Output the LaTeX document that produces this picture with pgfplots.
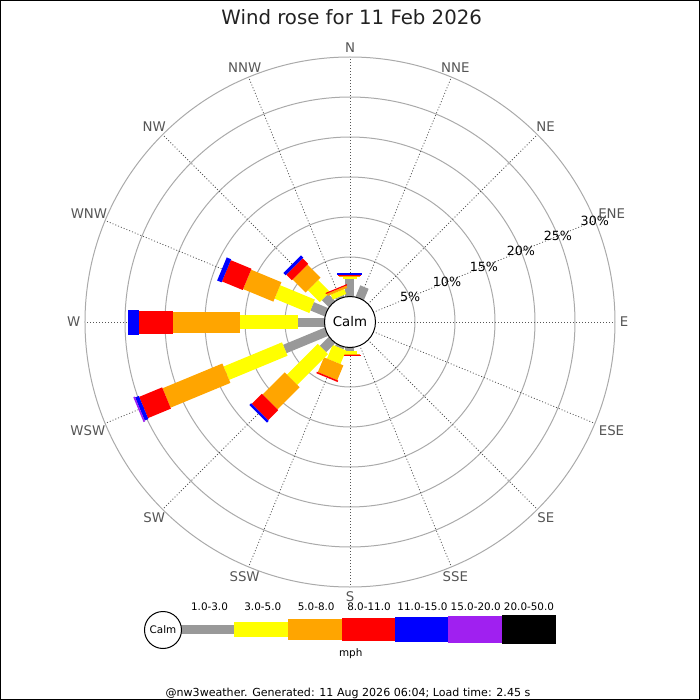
\documentclass[border=0pt]{standalone}
\usepackage{pgfplots}
\pgfplotsset{compat=1.18}
\usepgfplotslibrary{polar}
\usetikzlibrary{backgrounds}
\usepackage{fontspec}
\setmainfont{DejaVu Sans}
\definecolor{cgray}{HTML}{999999}
\definecolor{cyellow}{HTML}{FFFF00}
\definecolor{corange}{HTML}{FFA500}
\definecolor{cred}{HTML}{FF0000}
\definecolor{cblue}{HTML}{0000FF}
\definecolor{cpurple}{HTML}{A020F0}
\definecolor{ringgray}{HTML}{AAAAAA}
\definecolor{spoke}{HTML}{555555}
\definecolor{labgray}{HTML}{555555}
\definecolor{titlec}{HTML}{222222}
% bar widths (px * 0.75pt)
\def\wg{6.75pt}\def\wy{10.875pt}\def\wo{15.75pt}\def\wr{17.25pt}\def\wb{18.75pt}\def\wp{20.25pt}
% segment: colour, width, compass direction, from %, to %
\newcommand{\seg}[5]{\addplot[draw=#1, line width=#2, forget plot] coordinates {(#3,#4) (#3,#5)};}
\begin{document}
\begin{tikzpicture}
\begin{polaraxis}[
  at={(0,0)}, anchor=center,
  scale only axis, width=397.5pt, height=397.5pt,
  xmin=0, xmax=360, ymin=0, ymax=33.125,
  hide axis, clip=false,
  x filter/.expression={mod(450-x,360)},
  y filter/.expression={y+3.125},
]
\coordinate (O) at (axis cs:0,0);
% N
\seg{cgray}{\wg}{0}{0}{2.3}
\seg{cyellow}{\wy}{0}{2.3}{2.5}
\seg{corange}{\wo}{0}{2.5}{2.7}
\seg{cred}{\wr}{0}{2.7}{2.8}
\seg{cblue}{\wb}{0}{2.8}{2.95}
% NNE
\seg{cgray}{\wg}{22.5}{0}{1.6}
% S
\seg{cgray}{\wg}{180}{0}{0.55}
\seg{cyellow}{\wy}{180}{0.55}{0.85}
\seg{corange}{\wo}{180}{0.85}{1.0}
\seg{cred}{\wr}{180}{1.0}{1.15}
% SSW
\seg{cgray}{\wg}{202.5}{0}{0.35}
\seg{cyellow}{\wy}{202.5}{0.35}{2.2}
\seg{corange}{\wo}{202.5}{2.2}{4.2}
\seg{cred}{\wr}{202.5}{4.2}{4.4}
% SW
\seg{cgray}{\wg}{225}{0}{1.65}
\seg{cyellow}{\wy}{225}{1.65}{7.1}
\seg{corange}{\wo}{225}{7.1}{11.0}
\seg{cred}{\wr}{225}{11.0}{12.8}
\seg{cblue}{\wb}{225}{12.8}{13.1}
% WSW
\seg{cgray}{\wg}{247.5}{0}{5.7}
\seg{cyellow}{\wy}{247.5}{5.7}{13.6}
\seg{corange}{\wo}{247.5}{13.6}{21.7}
\seg{cred}{\wr}{247.5}{21.7}{24.8}
\seg{cblue}{\wb}{247.5}{24.8}{25.3}
\seg{cpurple}{\wp}{247.5}{25.3}{25.5}
% W
\seg{cgray}{\wg}{270}{0}{3.4}
\seg{cyellow}{\wy}{270}{3.4}{10.6}
\seg{corange}{\wo}{270}{10.6}{19.0}
\seg{cred}{\wr}{270}{19.0}{23.3}
\seg{cblue}{\wb}{270}{23.3}{24.6}
% WNW
\seg{cgray}{\wg}{292.5}{0}{2.0}
\seg{cyellow}{\wy}{292.5}{2.0}{6.7}
\seg{corange}{\wo}{292.5}{6.7}{10.8}
\seg{cred}{\wr}{292.5}{10.8}{13.6}
\seg{cblue}{\wb}{292.5}{13.6}{14.2}
% NW
\seg{cgray}{\wg}{315}{0}{1.3}
\seg{cyellow}{\wy}{315}{1.3}{3.4}
\seg{corange}{\wo}{315}{3.4}{5.7}
\seg{cred}{\wr}{315}{5.7}{6.7}
\seg{cblue}{\wb}{315}{6.7}{7.1}
% NNW
\seg{cgray}{\wg}{337.5}{0}{0.3}
\seg{cyellow}{\wy}{337.5}{0.3}{0.95}
\seg{corange}{\wo}{337.5}{0.95}{1.25}
\seg{cred}{\wr}{337.5}{1.25}{1.4}
\end{polaraxis}
% background grid
\begin{scope}[on background layer, shift={(O)}, x=0.75pt, y=0.75pt]
  \foreach \r in {65,105,145,185,225,265}
    \draw[ringgray, line width=0.75pt] (0,0) circle[radius=\r];
  \foreach \a in {0,22.5,...,337.5}
    \draw[spoke, line width=0.6pt, dash pattern=on 0.75pt off 1.5pt] (\a:25) -- (\a:265);
\end{scope}
\begin{scope}[shift={(O)}, x=0.75pt, y=0.75pt]
  \path (-350,-378) rectangle (350,322);
  \draw[black, line width=0.75pt] (-349.5,-377.5) rectangle (349.5,321.5);
  % title
  \node[anchor=base, text=titlec, inner sep=0pt, font=\fontsize{14.8}{17}\selectfont] at (1.7,297) {Wind rose for 11 Feb 2026};
  % ring labels
  \foreach \r/\t in {65/5,105/10,145/15,185/20,225/25,265/30}
    \node[inner sep=0pt, font=\fontsize{9.5}{11}\selectfont] at (22.5:\r) {\t\%};
  % compass labels
  \foreach \c/\n in {0/N,22.5/NNE,45/NE,67.5/ENE,90/E,112.5/ESE,135/SE,157.5/SSE,180/S,202.5/SSW,225/SW,247.5/WSW,270/W,292.5/WNW,315/NW,337.5/NNW}{
    \pgfmathsetmacro\ang{mod(450-\c,360)}
    \pgfmathsetmacro\anc{mod(630-\c,360)}
    \node[anchor=\anc, inner sep=0pt, text=labgray, font=\fontsize{10}{12}\selectfont] at (\ang:269.5) {\n};
  }
  % calm circle
  \draw[fill=white, line width=0.75pt] (0,0) circle[radius=25.5];
  \node[font=\fontsize{10}{12}\selectfont] at (0,0) {Calm};
  % legend
  \fill[cgray]   (-169,-311.75) rectangle (-115.7,-303.25);
  \fill[cyellow] (-115.7,-315) rectangle (-62.3,-300);
  \fill[corange] (-62.3,-318.35) rectangle (-8.3,-296.65);
  \fill[cred]    (-8.3,-319.2) rectangle (45,-295.8);
  \fill[cblue]   (45,-320.35) rectangle (98.3,-294.65);
  \fill[cpurple] (98.3,-321) rectangle (151.7,-294);
  \fill[black]   (151.7,-322) rectangle (206,-293);
  \draw[fill=white, line width=0.75pt] (-187,-308) circle[radius=18.5];
  \node[font=\fontsize{7.8}{9}\selectfont] at (-187,-308) {Calm};
  \foreach \x/\t in {-140.5/1.0-3.0,-87.2/3.0-5.0,-33.8/5.0-8.0,19/8.0-11.0,72.5/11.0-15.0,125.7/15.0-20.0,179/20.0-50.0}
    \node[inner sep=0pt, font=\fontsize{7.8}{9}\selectfont] at (\x,-285) {\t};
  \node[inner sep=0pt, font=\fontsize{7.8}{9}\selectfont] at (0.7,-332) {mph};
  \node[inner sep=0pt, font=\fontsize{8.3}{10}\selectfont] at (-2,-371) {@nw3weather. Generated: 11 Aug 2026 06:04; Load time: 2.45 s};
\end{scope}
\end{tikzpicture}
\end{document}
